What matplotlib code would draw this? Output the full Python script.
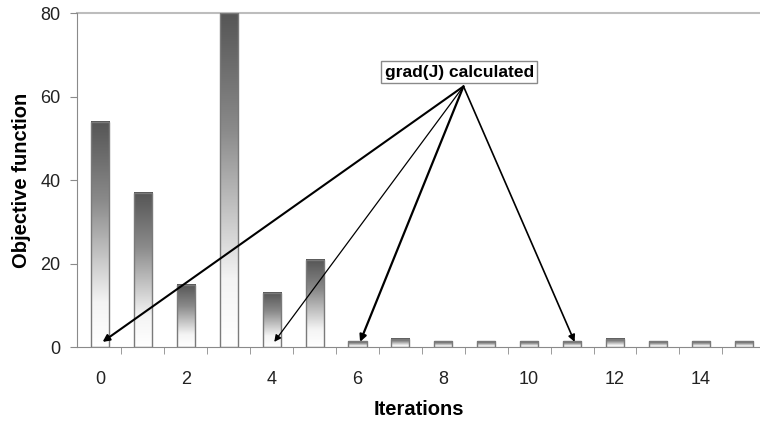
import numpy as np
import matplotlib.pyplot as plt
from matplotlib.colors import LinearSegmentedColormap
from matplotlib.patches import Rectangle

plt.rcParams.update({
    'font.family': ['Liberation Sans', 'DejaVu Sans'],
    'font.size': 12.5,
})

# objective function value per iteration
iterations = list(range(16))
objective = [54, 37, 15, 80, 13, 21, 1.4, 2.0, 1.4, 1.4, 1.4, 1.4, 2.0, 1.4, 1.4, 1.4]
# iterations where the gradient was calculated
grad_iters = [0, 4, 6, 11]
grad_widths = [1.5, 0.9, 1.6, 1.2]
x_ticks = [0, 2, 4, 6, 8, 10, 12, 14]
y_ticks = [0, 20, 40, 60, 80]

fig = plt.figure(figsize=(7.6, 4.26), dpi=100)
ax = fig.add_axes([0.1017, 0.1847, 0.8983, 0.7841])

# dark grey at top fading to white near the bottom
cmap = LinearSegmentedColormap.from_list('bar', [(0.0, '#ffffff'), (0.2, '#f4f4f4'),
                                                 (0.65, '#8a8a8a'), (1.0, '#555555')])
grad = np.linspace(0, 1, 256).reshape(-1, 1)
bar_w = 0.42
for x, v in zip(iterations, objective):
    ax.imshow(grad, cmap=cmap, origin='lower', aspect='auto', interpolation='bilinear',
              extent=(x - bar_w / 2, x + bar_w / 2, 0, v), zorder=2)
    ax.add_patch(Rectangle((x - bar_w / 2, 0), bar_w, v, fill=False,
                           edgecolor='#7a7a7a', linewidth=1.0, zorder=3))

ax.set_xlim(-0.53, 15.38)
ax.set_ylim(0, 80)
ax.axhline(80, color='#bdbdbd', linewidth=1.5, zorder=1, clip_on=False)

for s in ['top', 'right']:
    ax.spines[s].set_visible(False)
ax.spines['left'].set_color('#8a8a8a')
ax.spines['bottom'].set_color('#8a8a8a')

ax.set_xticks(x_ticks)
ax.set_xticks(np.arange(0.5, 15.5, 1.0), minor=True)
ax.tick_params(axis='x', which='major', length=0, pad=17, labelsize=13, labelcolor='#222222')
ax.tick_params(axis='x', which='minor', length=5, color='#8a8a8a', direction='out')
ax.set_yticks(y_ticks)
ax.tick_params(axis='y', length=5, color='#8a8a8a', pad=7, labelsize=13, labelcolor='#222222')

ax.set_xlabel('Iterations', fontsize=14.5, fontweight='bold', labelpad=9)
ax.set_ylabel('Objective function', fontsize=14.5, fontweight='bold', labelpad=7)

# annotation arrows from the label box
origin = (8.47, 62.5)
for i, lw in zip(grad_iters, grad_widths):
    ax.annotate('', xy=(i + 0.06, 1.3), xytext=origin,
                arrowprops=dict(arrowstyle='-|>', color='black', lw=lw,
                                mutation_scale=10, shrinkA=0, shrinkB=0), zorder=5)
ax.text(8.37, 65.9, 'grad(J) calculated', fontsize=12.5, fontweight='bold',
        ha='center', va='center', zorder=6,
        bbox=dict(boxstyle='square,pad=0.2', facecolor='white', edgecolor='#8a8a8a', linewidth=1.0))

fig.savefig('out.png', dpi=100)
